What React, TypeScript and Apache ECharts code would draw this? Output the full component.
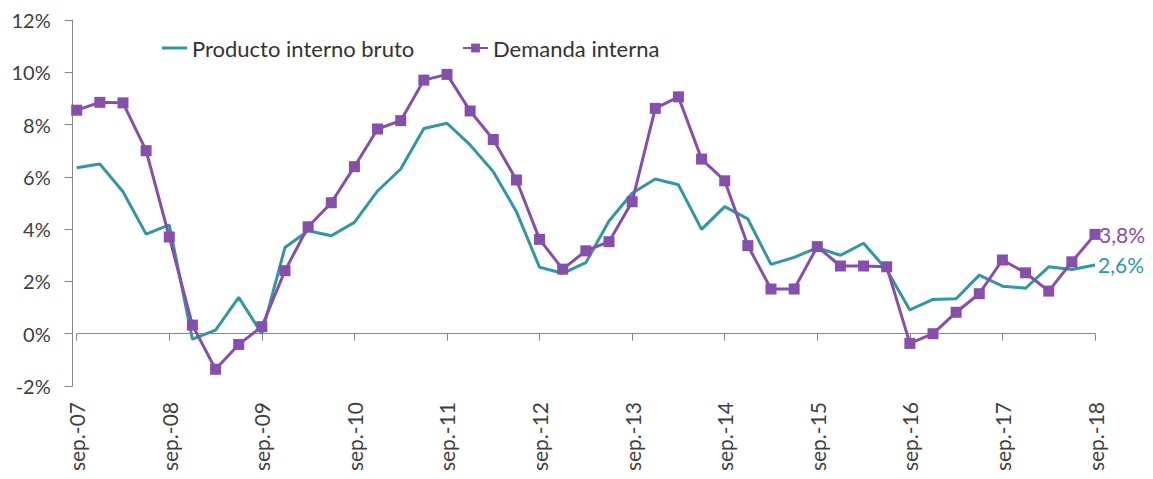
import React, { useEffect, useRef } from "react";
import * as echarts from "echarts";

const quarters = [
  "sep.-07", "dic.-07", "mar.-08", "jun.-08",
  "sep.-08", "dic.-08", "mar.-09", "jun.-09",
  "sep.-09", "dic.-09", "mar.-10", "jun.-10",
  "sep.-10", "dic.-10", "mar.-11", "jun.-11",
  "sep.-11", "dic.-11", "mar.-12", "jun.-12",
  "sep.-12", "dic.-12", "mar.-13", "jun.-13",
  "sep.-13", "dic.-13", "mar.-14", "jun.-14",
  "sep.-14", "dic.-14", "mar.-15", "jun.-15",
  "sep.-15", "dic.-15", "mar.-16", "jun.-16",
  "sep.-16", "dic.-16", "mar.-17", "jun.-17",
  "sep.-17", "dic.-17", "mar.-18", "jun.-18",
  "sep.-18",
];

const pib = [
  6.35, 6.49, 5.43, 3.81, 4.16, -0.21, 0.14, 1.39, 0.0, 3.3, 3.94, 3.75,
  4.26, 5.46, 6.3, 7.85, 8.05, 7.22, 6.2, 4.67, 2.54, 2.31, 2.72, 4.31,
  5.37, 5.92, 5.7, 3.99, 4.86, 4.39, 2.65, 2.92, 3.29, 3.0, 3.46, 2.45,
  0.91, 1.31, 1.34, 2.24, 1.82, 1.74, 2.56, 2.46, 2.63,
];

const demanda = [
  8.55, 8.85, 8.83, 7.0, 3.7, 0.33, -1.36, -0.41, 0.27, 2.41, 4.09, 5.01,
  6.39, 7.83, 8.15, 9.7, 9.92, 8.52, 7.43, 5.88, 3.61, 2.47, 3.17, 3.52,
  5.05, 8.62, 9.06, 6.68, 5.85, 3.37, 1.71, 1.71, 3.33, 2.59, 2.59, 2.56,
  -0.37, 0.0, 0.82, 1.53, 2.82, 2.33, 1.63, 2.75, 3.8,
];

const seriesNames = ["Producto interno bruto", "Demanda interna"];
const yTicks = { min: -2, max: 12, interval: 2 };

const TEAL = "#2f98a3";
const PURPLE = "#864ead";
const FONT = "Lato, 'Open Sans', sans-serif";
const TEXT = "#404040";
const AXIS = "#878787";

export default function App() {
  const ref = useRef<HTMLDivElement>(null);

  useEffect(() => {
    if (!ref.current) return;
    const chart = echarts.init(ref.current, null, { renderer: "svg" });
    const fmt = (v: number) => v.toFixed(1).replace(".", ",") + "%";
    chart.setOption({
      animation: false,
      backgroundColor: "#ffffff",
      textStyle: { fontFamily: FONT },
      grid: { left: 76.7, right: 58, top: 20, bottom: 93, containLabel: false },
      legend: [
        {
          data: [{ name: seriesNames[0], icon: "rect" }],
          left: 162,
          top: 36,
          padding: 0,
          itemWidth: 25,
          itemHeight: 3,
          textStyle: { fontFamily: FONT, fontSize: 22, color: "#333333", lineHeight: 24 },
        },
        {
          data: [seriesNames[1]],
          left: 462,
          top: 36,
          padding: 0,
          itemWidth: 25,
          itemHeight: 11,
          textStyle: { fontFamily: FONT, fontSize: 22, color: "#333333", lineHeight: 24 },
        },
      ],
      xAxis: [
        {
          type: "category",
          data: quarters,
          boundaryGap: false,
          position: "bottom",
          axisLine: { show: false, onZero: false },
          axisTick: { show: false },
          axisLabel: {
            interval: 3,
            rotate: 90,
            margin: 16,
            fontFamily: FONT,
            fontSize: 21,
            color: TEXT,
          },
          splitLine: { show: false },
        },
        {
          type: "category",
          data: quarters,
          boundaryGap: false,
          position: "bottom",
          axisLine: { show: true, onZero: true, lineStyle: { color: AXIS, width: 1 } },
          axisTick: { show: true, interval: 3, length: 7, inside: false, lineStyle: { color: AXIS } },
          axisLabel: { show: false },
          splitLine: { show: false },
        },
      ],
      yAxis: {
        type: "value",
        min: yTicks.min,
        max: yTicks.max,
        interval: yTicks.interval,
        offset: 4,
        axisLine: { show: true, lineStyle: { color: AXIS, width: 1 } },
        axisTick: { show: true, length: 8, inside: false, lineStyle: { color: AXIS } },
        axisLabel: {
          formatter: (v: number) => `${v}%`,
          fontFamily: FONT,
          fontSize: 20,
          color: TEXT,
          margin: 22,
        },
        splitLine: { show: false },
      },
      series: [
        {
          name: seriesNames[0],
          type: "line",
          data: pib,
          symbol: "none",
          lineStyle: { color: TEAL, width: 3 },
          itemStyle: { color: TEAL },
          endLabel: {
            show: true,
            formatter: (p: any) => fmt(p.value),
            color: TEAL,
            fontFamily: FONT,
            fontSize: 21,
            distance: 3,
          },
          z: 2,
        },
        {
          name: seriesNames[1],
          type: "line",
          data: demanda,
          symbol: "rect",
          symbolSize: 11,
          lineStyle: { color: PURPLE, width: 3 },
          itemStyle: { color: PURPLE },
          endLabel: {
            show: true,
            formatter: (p: any) => fmt(p.value),
            color: PURPLE,
            fontFamily: FONT,
            fontSize: 21,
            distance: 4,
          },
          z: 3,
        },
      ],
    });
    return () => chart.dispose();
  }, []);

  return (
    <div
      ref={ref}
      style={{ position: "fixed", left: 0, top: 0, width: 1153, height: 479 }}
    />
  );
}
